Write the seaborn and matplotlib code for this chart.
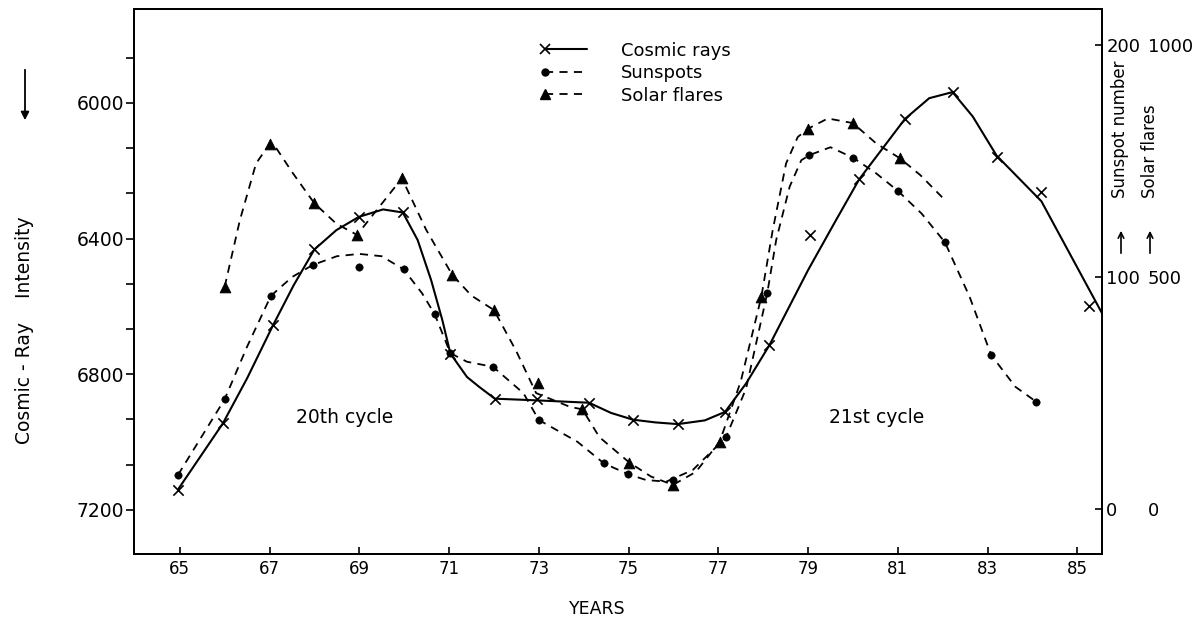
import numpy as np
import matplotlib
matplotlib.use("Agg")
import matplotlib.pyplot as plt
import seaborn as sns
from matplotlib.lines import Line2D
from matplotlib.legend_handler import HandlerLine2D
from matplotlib.ticker import FixedLocator

# ---------------- data ----------------
# Cosmic-ray intensity, yearly points (x markers)
cr_years = [64.96, 65.96, 67.08, 68.0, 68.99, 69.97, 71.03, 72.02, 72.96, 74.12,
            75.1, 76.1, 77.15, 78.14, 79.05, 80.14, 81.16, 82.22, 83.2, 84.2, 85.25]
cr_vals = [7140, 6945, 6655, 6432, 6336, 6323, 6739, 6872, 6872, 6884,
           6934, 6947, 6911, 6714, 6388, 6225, 6047, 5968, 6160, 6264, 6600]
# hand-drawn smooth curve through the cosmic-ray points (traced)
cr_curve_years = [64.96, 65.96, 66.5, 67.08, 67.54, 68.0, 68.49, 68.99, 69.53, 69.97,
                  70.3, 70.6, 70.85, 71.03, 71.4, 71.67, 72.02, 72.96, 74.12, 74.61,
                  75.1, 75.6, 76.1, 76.7, 77.15, 77.62, 78.14, 79.0, 79.6, 80.14,
                  81.16, 81.7, 82.22, 82.67, 83.2, 84.2, 85.55]
cr_curve_vals = [7140, 6945, 6812, 6655, 6537, 6432, 6375, 6336, 6314, 6323,
                 6404, 6522, 6640, 6739, 6808, 6837, 6872, 6877, 6884, 6914,
                 6934, 6942, 6947, 6936, 6911, 6827, 6714, 6493, 6351, 6225,
                 6047, 5986, 5968, 6040, 6155, 6290, 6620]

# Sunspot number (dots)
ss_years = [64.96, 66.0, 67.03, 67.96, 68.99, 69.99, 70.68, 71.03, 71.98, 73.0,
            74.45, 74.98, 76.0, 77.17, 78.09, 79.03, 80.01, 81.0, 82.05, 83.08, 84.08]
ss_vals = [14.7, 47.3, 91.9, 105.2, 104.2, 103.3, 84.0, 67.2, 61.3, 38.4,
           19.7, 15.1, 12.5, 30.9, 93.0, 152.6, 151.4, 137.2, 115.0, 66.4, 46.3]
ss_curve_years = [64.96, 66.0, 66.5, 67.03, 67.5, 67.96, 68.5, 69.0, 69.5, 69.99,
                  70.4, 70.68, 71.03, 71.4, 71.98, 72.66, 73.0, 73.86, 74.45, 74.98,
                  75.39, 75.84, 76.43, 77.17, 77.62, 78.09, 78.29, 78.59, 78.85, 79.03,
                  79.5, 80.01, 80.52, 81.0, 81.53, 82.05, 82.6, 83.08, 83.62, 84.08]
ss_curve_vals = [14.7, 47.3, 70.0, 91.9, 100.0, 105.2, 109.0, 110.0, 109.0, 103.3,
                 93.0, 84.0, 67.2, 63.5, 61.3, 49.9, 38.4, 29.0, 19.7, 15.1,
                 12.5, 11.8, 16.8, 30.9, 52.0, 93.0, 116.0, 139.0, 150.4, 152.6,
                 156.0, 151.4, 144.7, 137.2, 127.4, 115.0, 91.5, 66.4, 52.7, 46.3]

# Solar flares (triangles)
sf_years = [66.0, 67.0, 68.0, 68.95, 69.95, 71.07, 72.0, 72.98, 73.97, 75.02,
            75.99, 77.03, 77.96, 79.0, 80.0, 81.05]
sf_vals = [479, 787, 659, 591, 713, 505, 429, 271, 215, 100,
           52, 145, 458, 820, 832, 756]
sf_curve_years = [66.0, 66.34, 66.7, 67.0, 67.15, 67.52, 68.0, 68.49, 68.95, 69.45,
                  69.95, 70.49, 71.07, 71.5, 72.0, 72.5, 72.94, 73.7, 73.97, 74.35,
                  75.02, 75.5, 75.99, 76.5, 77.03, 77.5, 77.96, 78.21, 78.51, 78.77,
                  79.0, 79.44, 80.0, 80.52, 81.05, 81.5, 82.0]
sf_curve_vals = [479, 623, 745, 787, 778, 724, 659, 615, 591, 652,
                 713, 602, 505, 460, 429, 340, 250, 220, 215, 155,
                 100, 70, 52, 80, 145, 275, 458, 600, 745, 802,
                 820, 842, 832, 788, 756, 720, 671]

x_ticks = [65, 67, 69, 71, 73, 75, 77, 79, 81, 83, 85]
cr_ticks = [6000, 6400, 6800, 7200]
cr_minor = [5866.7, 6133.3, 6266.7, 6533.3, 6666.7, 6933.3, 7066.7]
ss_ticks = [0, 100, 200]
sf_ticks = [0, 500, 1000]

# ---------------- style ----------------
sns.set_theme(style="ticks", rc={
    "axes.edgecolor": "black", "axes.linewidth": 1.4,
    "text.color": "black", "xtick.color": "black", "ytick.color": "black",
    "axes.labelcolor": "black", "xtick.major.width": 1.2, "ytick.major.width": 1.2,
    "ytick.minor.width": 1.2,
})
plt.rcParams["font.family"] = ["DejaVu Sans"]

W, H = 1199, 624
fig = plt.figure(figsize=(W / 100, H / 100), dpi=100)
L, R, T, B = 134, 1102, 9, 554
ax = fig.add_axes([L / W, (H - B) / H, (R - L) / W, (B - T) / H])
ax2 = ax.twinx()
ax3 = ax.twinx()

dash = (0, (4.5, 3.5))

# cosmic rays
sns.lineplot(x=cr_curve_years, y=cr_curve_vals, ax=ax, color="black", lw=1.5,
             sort=False, estimator=None)
sns.scatterplot(x=cr_years, y=cr_vals, ax=ax, marker="x", s=55, color="black",
                linewidth=1.2, zorder=3)
# sunspots
sns.lineplot(x=ss_curve_years, y=ss_curve_vals, ax=ax2, color="black", lw=1.3,
             linestyle=dash, sort=False, estimator=None)
sns.scatterplot(x=ss_years, y=ss_vals, ax=ax2, marker="o", s=28, color="black",
                edgecolor="black", zorder=3)
# solar flares
sns.lineplot(x=sf_curve_years, y=sf_curve_vals, ax=ax3, color="black", lw=1.3,
             linestyle=dash, sort=False, estimator=None)
sns.scatterplot(x=sf_years, y=sf_vals, ax=ax3, marker="^", s=60, color="black",
                edgecolor="black", zorder=3)

# limits
ax.set_xlim(63.98, 85.55)
ax.set_ylim(7330, 5723)
ax2.set_ylim(-19.4, 215.6)
ax3.set_ylim(-97, 1078)

# ticks
ax.set_xticks(x_ticks)
ax.set_xticklabels([str(t) for t in x_ticks])
ax.tick_params(axis="x", direction="in", length=5, labelsize=12, pad=4)
ax.set_yticks(cr_ticks)
ax.set_yticklabels([str(t) for t in cr_ticks])
ax.yaxis.set_minor_locator(FixedLocator(cr_minor))
ax.tick_params(axis="y", which="both", direction="out", length=6, labelsize=13.5, pad=1)

ax2.set_yticks(ss_ticks)
ax2.set_yticklabels([str(t) for t in ss_ticks])
ax2.tick_params(axis="y", direction="in", length=5, labelsize=13, pad=3)

ax3.set_yticks(sf_ticks)
ax3.set_yticklabels([str(t) for t in sf_ticks])
ax3.tick_params(axis="y", length=0, labelsize=13, pad=33)
for s in ax3.spines.values():
    s.set_visible(False)

for a in (ax, ax2, ax3):
    a.set_xlabel("")
    a.set_ylabel("")

# texts
ax.text(68.67, 6927, "20th cycle", ha="center", va="center", fontsize=13.5)
ax.text(80.52, 6927, "21st cycle", ha="center", va="center", fontsize=13.5)

fig.text(597 / W, 1 - 609 / H, "YEARS", ha="center", va="center", fontsize=12.5)
fig.text(25 / W, 1 - 330 / H, "Cosmic - Ray    Intensity", rotation=90,
         ha="center", va="center", fontsize=13.5)
fig.text(1120 / W, 1 - 198 / H, "Sunspot number", rotation=90,
         ha="center", va="bottom", fontsize=12)
fig.text(1150 / W, 1 - 198 / H, "Solar flares", rotation=90,
         ha="center", va="bottom", fontsize=12)

arrow_kw = dict(arrowstyle="-|>", color="black", lw=1.3, mutation_scale=12)
ax.annotate("", xy=(25 / W, 1 - 123 / H), xytext=(25 / W, 1 - 67 / H),
            xycoords="figure fraction", textcoords="figure fraction",
            arrowprops=arrow_kw, annotation_clip=False)
for xp in (1121, 1150):
    ax.annotate("", xy=(xp / W, 1 - 228 / H), xytext=(xp / W, 1 - 256 / H),
                xycoords="figure fraction", textcoords="figure fraction",
                arrowprops=dict(arrowstyle="->", color="black", lw=1.2,
                                mutation_scale=10), annotation_clip=False)


# legend with marker at left end of the sample line
class LeftMarkerHandler(HandlerLine2D):
    def create_artists(self, *args, **kwargs):
        arts = super().create_artists(*args, **kwargs)
        for a in arts:
            a.set_markevery([0])
        return arts


h1 = Line2D([], [], color="black", lw=1.5, marker="x", markersize=7, mew=1.2)
h2 = Line2D([], [], color="black", lw=1.3, ls=dash, marker="o", markersize=5)
h3 = Line2D([], [], color="black", lw=1.3, ls=dash, marker="^", markersize=7)
ax3.legend([h1, h2, h3], ["Cosmic rays", "Sunspots", "Solar flares"],
           handler_map={Line2D: LeftMarkerHandler(numpoints=1)},
           loc="upper left", bbox_to_anchor=(0.4246, 0.94), frameon=False,
           fontsize=13, handlelength=2.3, handletextpad=1.9, labelspacing=0.25,
           borderaxespad=0, borderpad=0)

fig.savefig("out.png", dpi=100)
